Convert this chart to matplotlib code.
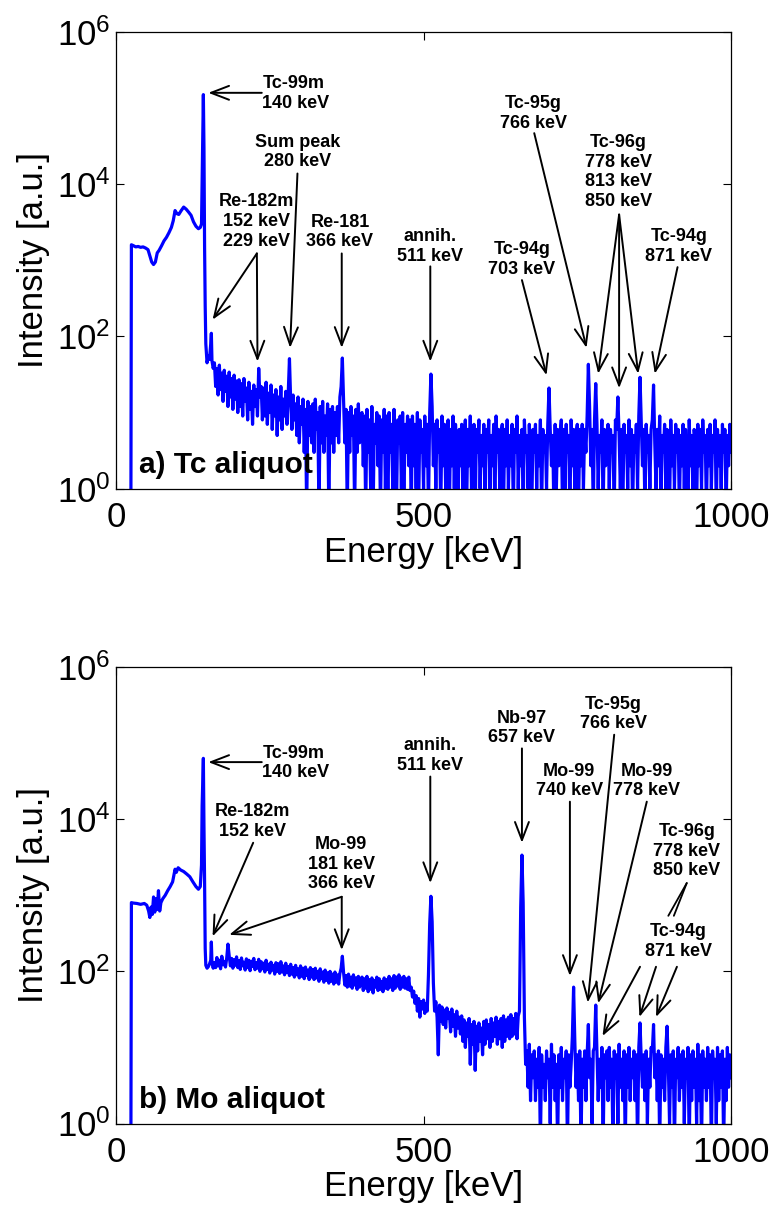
import numpy as np
import matplotlib.pyplot as plt
from matplotlib.ticker import NullLocator

plt.rcParams['font.family'] = ['Liberation Sans', 'DejaVu Sans']
plt.rcParams['mathtext.fontset'] = 'custom'
plt.rcParams['mathtext.rm'] = 'Liberation Sans'

# ---- spectrum a) Tc aliquot ----
# low energy part, keV / counts
low_energy_a = [0, 24, 25, 28, 32, 36, 40, 44, 48, 52, 55, 58, 61, 64, 67, 70, 74, 78, 82,
                86, 90, 93, 96, 99, 102, 106, 110, 114, 118, 122, 126, 130, 134, 137, 139,
                140, 141, 142, 143, 144, 145, 146, 148, 150, 152, 154, 155, 156, 158]
low_counts_a = [0.1, 0.1, 1600, 1560, 1500, 1520, 1480, 1500, 1450, 1380, 1150, 950, 880, 950,
                1250, 1350, 1550, 1800, 2000, 2300, 2700, 3300, 4500, 4100, 4000, 4500, 5000,
                4700, 4300, 3900, 3200, 2800, 2600, 2700, 3000, 12000, 60000, 150000, 30000,
                1500, 250, 80, 45, 55, 50, 80, 110, 48, 38]

# 160 - 1000 keV, 2 keV bins (one row = 40 keV)
grid_energy = np.arange(160, 1001, 2)
grid_counts_a = [
    45, 22, 38, 17, 42, 20, 33, 14, 36, 19, 30, 12, 34, 16, 28, 11, 31, 15, 26, 10,
    27, 12, 24, 9, 28, 14, 21, 8, 25, 11, 19, 7, 23, 12, 20, 9, 38, 16, 22, 8,
    21, 9, 25, 7, 18, 10, 23, 6, 17, 9, 20, 5, 16, 8, 22, 6, 15, 9, 19, 7,
    18, 51, 14, 6, 17, 8, 13, 5, 16, 4, 12, 7, 15, 3, 11, 0.5, 14, 5, 12, 4,
    13, 3, 15, 6, 10, 0.5, 12, 4, 14, 3, 9, 5, 13, 0.5, 11, 4, 12, 3, 10, 5,
    12, 4, 16, 22, 52, 14, 4, 11, 0.5, 10, 3, 12, 5, 9, 0.5, 11, 3, 13, 4, 9,
    10, 2, 9, 0.5, 11, 3, 8, 1, 12, 0.5, 7, 4, 10, 2, 9, 0.5, 8, 3, 11, 1,
    9, 0.5, 10, 3, 7, 1, 11, 2, 0.5, 8, 4, 9, 1, 10, 0.5, 7, 3, 9, 2, 8,
    0.5, 9, 2, 7, 1, 10, 0.5, 8, 3, 6, 1, 9, 2, 7, 0.5, 10, 32, 12, 2, 7,
    1, 8, 3, 6, 0.5, 9, 2, 7, 1, 5, 8, 0.5, 6, 2, 9, 1, 7, 3, 0.5, 6,
    2, 7, 1, 5, 8, 0.5, 6, 2, 9, 1, 4, 7, 0.5, 6, 3, 8, 1, 5, 2, 7,
    0.5, 6, 3, 8, 1, 5, 2, 7, 0.5, 9, 3, 6, 1, 5, 7, 0.5, 6, 2, 8, 1,
    5, 2, 7, 0.5, 6, 3, 9, 1, 5, 2, 6, 0.5, 8, 3, 5, 1, 7, 2, 0.5, 6,
    3, 7, 1, 5, 2, 8, 0.5, 6, 3, 5, 1, 7, 21, 6, 2, 5, 0.5, 7, 1, 6,
    2, 5, 8, 0.5, 6, 1, 7, 3, 5, 0.5, 8, 2, 6, 1, 5, 7, 0.5, 6, 2, 7,
    1, 6, 3, 9, 43, 12, 2, 6, 0.5, 8, 24, 7, 1, 5, 3, 8, 0.5, 6, 2, 5,
    7, 1, 6, 3, 5, 0.5, 8, 6, 16, 5, 1, 6, 0.5, 7, 3, 5, 1, 8, 2, 6,
    0.5, 5, 3, 7, 1, 9, 29, 8, 2, 6, 0.5, 7, 3, 5, 1, 6, 8, 23, 4, 1,
    6, 2, 9, 0.5, 5, 3, 7, 1, 6, 4, 0.5, 8, 2, 5, 1, 7, 3, 6, 0.5, 5,
    2, 7, 1, 6, 3, 0.5, 8, 2, 5, 1, 6, 4, 0.5, 7, 2, 6, 1, 8, 3, 5,
    0.5, 6, 2, 7, 1, 5, 3, 8, 0.5, 6, 2, 5, 1, 7, 3, 6, 0.5, 5, 2, 7,
    3]

# ---- spectrum b) Mo aliquot ----
low_energy_b = [0, 24, 25, 28, 34, 40, 46, 50, 53, 55, 57, 59, 61, 63, 65, 67, 69, 71, 73, 76,
                80, 84, 88, 92, 96, 98, 101, 105, 110, 115, 120, 125, 130, 134, 137, 139, 140,
                141, 142, 143, 144, 145, 146, 148, 150, 152, 154, 155, 156, 158]
low_counts_b = [0.1, 0.1, 800, 790, 780, 760, 780, 740, 620, 510, 700, 560, 950, 600, 900, 650,
                1150, 620, 800, 900, 1000, 1150, 1300, 1500, 2200, 2000, 2300, 2150, 2050, 1900,
                1750, 1500, 1300, 1200, 1300, 2500, 15000, 30000, 63000, 8000, 1500, 200, 120,
                110, 115, 125, 140, 243, 130, 110]

grid_counts_b = [
    130, 112, 152, 118, 140, 108, 158, 122, 135, 114, 150, 228, 160, 118, 148, 110, 142, 120, 155, 112,
    138, 106, 150, 118, 132, 104, 146, 112, 140, 102, 136, 116, 148, 105, 130, 110, 144, 100, 134, 108,
    128, 98, 140, 106, 124, 95, 132, 104, 120, 92, 130, 100, 126, 94, 134, 98, 118, 90, 128, 96,
    116, 88, 124, 92, 112, 84, 120, 90, 108, 82, 118, 86, 110, 80, 114, 88, 104, 78, 112, 84,
    106, 78, 110, 82, 100, 74, 108, 80, 98, 72, 104, 76, 96, 70, 100, 74, 92, 68, 98, 72,
    90, 68, 94, 110, 158, 96, 66, 88, 62, 92, 64, 84, 60, 90, 66, 82, 58, 86, 62, 80,
    84, 56, 80, 60, 86, 54, 78, 58, 82, 52, 76, 62, 84, 56, 80, 58, 74, 54, 82, 60,
    78, 58, 86, 62, 80, 56, 88, 60, 84, 64, 90, 58, 82, 62, 86, 60, 80, 58, 84, 56,
    62, 46, 55, 38, 48, 30, 44, 25, 40, 32, 42, 28, 38, 30, 90, 420, 970, 450, 70, 30,
    40, 25, 8, 36, 22, 34, 20, 31, 18, 33, 24, 29, 16, 32, 19, 27, 14, 30, 18, 25,
    15, 26, 12, 23, 10, 21, 14, 24, 6, 20, 11, 22, 5, 19, 9, 21, 12, 18, 8, 22,
    11, 23, 13, 20, 10, 24, 12, 21, 14, 25, 11, 22, 13, 24, 10, 26, 12, 23, 14, 25,
    13, 27, 14, 24, 15, 28, 13, 26, 30, 700, 3370, 800, 25, 6, 9, 3, 11, 2, 8, 4,
    9, 2, 7, 3, 10, 0.5, 8, 3, 6, 2, 9, 4, 7, 1, 11, 3, 8, 2, 6, 0.5,
    8, 3, 10, 2, 7, 4, 9, 0.5, 8, 3, 6, 14, 62, 12, 3, 8, 2, 9, 0.5, 7,
    3, 9, 2, 8, 20, 4, 7, 1, 9, 10, 36, 8, 2, 7, 3, 10, 0.5, 8, 4, 9,
    2, 10, 3, 7, 0.5, 9, 4, 8, 1, 11, 3, 7, 2, 9, 0.5, 8, 3, 10, 2, 7,
    4, 9, 2, 8, 0.5, 10, 21, 7, 3, 8, 2, 9, 1, 7, 3, 10, 9, 20, 4, 8,
    2, 9, 0.5, 8, 3, 7, 2, 10, 19, 6, 1, 8, 3, 9, 0.5, 7, 4, 10, 2, 8,
    3, 9, 1, 7, 4, 10, 0.5, 8, 2, 9, 3, 7, 1, 11, 2, 8, 0.5, 9, 3, 7,
    2, 10, 3, 8, 0.5, 9, 4, 7, 1, 10, 2, 8, 3, 9, 0.5, 7, 2, 10, 3, 8,
    4]

# labels: text, x, log10(y), alignment, arrows (x0, logy0, x1, logy1)
labels_a = [
    ("Tc-99m\n140 keV", 238, 5.19, "left", [(237, 5.20, 150, 5.20)]),
    ("Sum peak\n280 keV", 295, 4.42, "center", [(295, 4.14, 283, 1.85)]),
    ("Re-182m\n152 keV\n229 keV", 228, 3.51, "center",
     [(229, 3.09, 157, 2.22), (229, 3.09, 230, 1.67)]),
    ("Re-181\n366 keV", 364, 3.37, "center", [(367, 3.09, 367, 1.85)]),
    ("annih.\n511 keV", 511, 3.18, "center", [(511, 2.92, 511, 1.67)]),
    ("Tc-94g\n703 keV", 660, 3.01, "center", [(660, 2.74, 700, 1.49)]),
    ("Tc-95g\n766 keV", 679, 4.93, "center", [(680, 4.67, 765, 1.85)]),
    ("Tc-96g\n778 keV\n813 keV\n850 keV", 817, 4.16, "center",
     [(818, 3.60, 784, 1.51), (818, 3.60, 818, 1.32), (818, 3.60, 849, 1.51)]),
    ("Tc-94g\n871 keV", 915, 3.18, "center", [(913, 2.91, 876, 1.51)]),
]
labels_b = [
    ("Tc-99m\n140 keV", 238, 4.74, "left", [(237, 4.75, 150, 4.75)]),
    ("Re-182m\n152 keV", 222, 3.97, "center", [(223, 3.69, 157, 2.46)]),
    ("Mo-99\n181 keV\n366 keV", 366, 3.41, "center",
     [(367, 2.98, 184, 2.48), (367, 2.98, 367, 2.28)]),
    ("annih.\n511 keV", 511, 4.84, "center", [(511, 4.56, 511, 3.16)]),
    ("Nb-97\n657 keV", 660, 5.20, "center", [(660, 4.93, 660, 3.69)]),
    ("Tc-95g\n766 keV", 809, 5.38, "center", [(810, 5.11, 767, 1.59)]),
    ("Mo-99\n740 keV", 737, 4.50, "center", [(738, 4.23, 738, 1.94)]),
    ("Mo-99\n778 keV", 863, 4.50, "center", [(863, 4.23, 784, 1.58)]),
    ("Tc-96g\n778 keV\n850 keV", 928, 3.58, "center", []),
    ("Tc-94g\n871 keV", 914, 2.39, "center",
     [(852, 2.06, 791, 1.15), (878, 2.06, 851, 1.40), (912, 2.06, 878, 1.40)]),
]
plain_lines_b = [(928, 3.16, 898, 2.73), (928, 3.16, 907, 2.73)]


def draw_panel(ax, energy, counts, labels, title, lines=()):
    ax.plot(energy, counts, color='#0000FF', lw=2.3)
    ax.set_yscale('log')
    ax.set_xlim(0, 1000)
    ax.set_ylim(1, 1e6)
    ax.set_xticks([0, 500, 1000])
    ax.set_yticks([1, 1e2, 1e4, 1e6])
    ax.set_yticklabels([r'$\mathrm{10^{%d}}$' % p for p in (0, 2, 4, 6)])
    ax.yaxis.set_minor_locator(NullLocator())
    ax.tick_params(direction='in', top=True, right=True, length=6, width=0.8,
                   labelsize=25)
    ax.tick_params(axis='x', pad=9)
    ax.tick_params(axis='y', pad=4)
    for sp in ax.spines.values():
        sp.set_linewidth(0.9)
    ax.set_xlabel('Energy [keV]', fontsize=25, labelpad=1)
    ax.set_ylabel('Intensity [a.u.]', fontsize=25, labelpad=5)

    for text, x, ly, ha, arrows in labels:
        ax.text(x, 10 ** ly, text, ha=ha, va='center', multialignment=ha,
                fontsize=13, fontweight='bold', zorder=5)
        for x0, y0, x1, y1 in arrows:
            ax.annotate('', xy=(x1, 10 ** y1), xytext=(x0, 10 ** y0),
                        arrowprops=dict(arrowstyle='->,head_length=1.3,head_width=0.5',
                                        lw=1.4, color='k', shrinkA=0, shrinkB=0,
                                        mutation_scale=10), zorder=5)
    for x0, y0, x1, y1 in lines:
        ax.annotate('', xy=(x1, 10 ** y1), xytext=(x0, 10 ** y0),
                    arrowprops=dict(arrowstyle='-', lw=1.3, color='k',
                                    shrinkA=0, shrinkB=0), zorder=5)

    ax.text(0.038, 0.034, title, transform=ax.transAxes, fontsize=21.5,
            fontweight='bold', va='baseline', zorder=6)


fig = plt.figure(figsize=(7.74, 12.09), dpi=100)
ax1 = fig.add_axes([0.1499, 0.5958, 0.7946, 0.3778])
ax2 = fig.add_axes([0.1499, 0.0707, 0.7946, 0.3776])

energy_a = np.concatenate([low_energy_a, grid_energy])
counts_a = np.concatenate([low_counts_a, grid_counts_a])
energy_b = np.concatenate([low_energy_b, grid_energy])
counts_b = np.concatenate([low_counts_b, grid_counts_b])

draw_panel(ax1, energy_a, counts_a, labels_a, 'a) Tc aliquot')
draw_panel(ax2, energy_b, counts_b, labels_b, 'b) Mo aliquot', plain_lines_b)

fig.savefig('out.png', dpi=100)
